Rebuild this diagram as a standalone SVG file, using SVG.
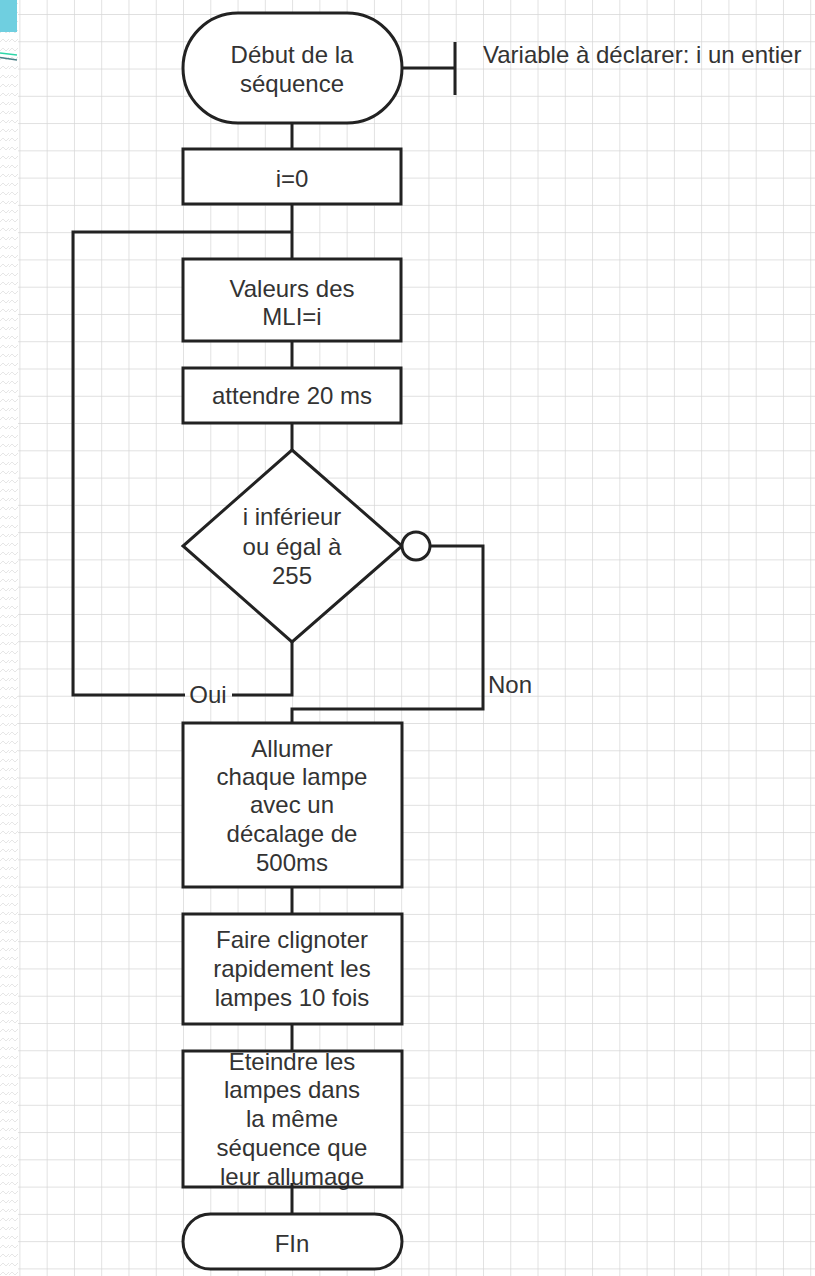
<svg xmlns="http://www.w3.org/2000/svg" width="815" height="1276" viewBox="0 0 815 1276">
<defs>
<pattern id="grid" patternUnits="userSpaceOnUse" x="19.4" y="14" width="27.27" height="27.27">
<path d="M0 0H27.27M0 0V27.27" fill="none" stroke="#d6d6d6" stroke-width="1.4"/>
</pattern>
<pattern id="zig" patternUnits="userSpaceOnUse" x="0" y="0" width="9" height="9">
<path d="M0 6L3 3L6 6L9 3" fill="none" stroke="#e6e6e6" stroke-width="1"/>
</pattern>
</defs>
<style>
.shape{fill:#fff;stroke:#222;stroke-width:3}
.conn{fill:none;stroke:#222;stroke-width:3}
text{font-family:"Liberation Sans",Arial,sans-serif;font-size:24px;fill:#333;text-anchor:middle}
.left{text-anchor:start}
</style>
<rect x="0" y="0" width="815" height="1276" fill="#fff"/>
<rect x="0" y="0" width="18" height="1276" fill="url(#zig)"/>
<rect x="18" y="0" width="797" height="1276" fill="url(#grid)"/>
<rect x="0" y="0" width="17" height="32" fill="#6fcfe0"/>
<path d="M0 53L17 55" stroke="#2fd6a8" stroke-width="1.5"/>
<path d="M0 57.5L17 60" stroke="#4a7f86" stroke-width="1.5"/>

<g id="connectors">
<path class="conn" d="M292 123V149"/>
<path class="conn" d="M292 204V259"/>
<path class="conn" d="M292 341V368"/>
<path class="conn" d="M292 423V450"/>
<path class="conn" d="M292 642V695H232"/>
<path class="conn" d="M185 695H73V232H292"/>
<path class="conn" d="M430 546H483V709H292V723"/>
<path class="conn" d="M292 887V914"/>
<path class="conn" d="M292 1024V1051"/>
<path class="conn" d="M292 1187V1214"/>
<path class="conn" d="M402 68H455M455 42V95"/>
<text x="208" y="703">Oui</text>
<text class="left" x="488" y="693">Non</text>
</g>

<g id="start">
<rect class="shape" x="183" y="13" width="219" height="110" rx="55" ry="55"/>
<text x="292" y="63">Début de la</text>
<text x="292" y="92">séquence</text>
</g>
<g id="note">
<text class="left" x="483" y="63">Variable à déclarer: i un entier</text>
</g>
<g id="init">
<rect class="shape" x="183" y="149" width="218" height="55"/>
<text x="292" y="187">i=0</text>
</g>
<g id="mli">
<rect class="shape" x="183" y="259" width="218" height="82"/>
<text x="292" y="297">Valeurs des</text>
<text x="292" y="325">MLI=i</text>
</g>
<g id="wait">
<rect class="shape" x="183" y="368" width="218" height="55"/>
<text x="292" y="404">attendre 20 ms</text>
</g>
<g id="decision">
<path class="shape" d="M292 450L402 546L292 642L183 546Z"/>
<circle class="shape" cx="416" cy="546" r="14"/>
<text x="292" y="525">i inférieur</text>
<text x="292" y="555">ou égal à</text>
<text x="292" y="584">255</text>
</g>
<g id="allumer">
<rect class="shape" x="183" y="723" width="219" height="164"/>
<text x="292" y="757">Allumer</text>
<text x="292" y="785">chaque lampe</text>
<text x="292" y="813">avec un</text>
<text x="292" y="842">décalage de</text>
<text x="292" y="871">500ms</text>
</g>
<g id="clignoter">
<rect class="shape" x="183" y="914" width="219" height="110"/>
<text x="292" y="948">Faire clignoter</text>
<text x="292" y="977">rapidement les</text>
<text x="292" y="1006">lampes 10 fois</text>
</g>
<g id="eteindre">
<rect x="183" y="1051" width="219" height="136" fill="#fff"/>
<text x="292" y="1070">Eteindre les</text>
<text x="292" y="1098">lampes dans</text>
<text x="292" y="1127">la même</text>
<text x="292" y="1156">séquence que</text>
<text x="292" y="1185">leur allumage</text>
<rect x="183" y="1051" width="219" height="136" fill="none" stroke="#222" stroke-width="3"/>
<path class="conn" d="M292 1183V1187"/>
</g>
<g id="fin">
<rect class="shape" x="183" y="1214" width="219" height="55" rx="27.5" ry="27.5"/>
<text x="292" y="1252">FIn</text>
</g>
</svg>
